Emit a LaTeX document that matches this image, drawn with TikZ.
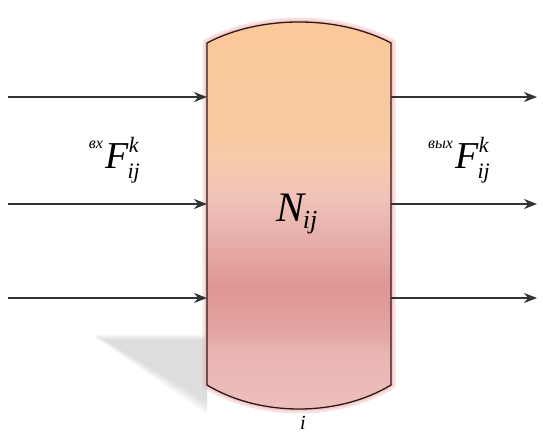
\documentclass[tikz,border=0pt]{standalone}
\usepackage[no-math]{fontspec}
\setmainfont{Liberation Serif}
\usetikzlibrary{arrows.meta, calc, positioning}
\definecolor{tankline}{HTML}{2A1A1A}
\definecolor{tankglow}{HTML}{F2A8A8}
\definecolor{flowclr}{HTML}{333333}
\definecolor{tankbotc}{HTML}{EDC0BD}
\definecolor{tanklowc}{HTML}{E9B5B3}
\definecolor{tankmidc}{HTML}{E3A5A2}
\definecolor{tankdarkc}{HTML}{DE9693}
\definecolor{tankrosec}{HTML}{E7AEA9}
\definecolor{tankpinkc}{HTML}{EFC2B8}
\definecolor{tanklightc}{HTML}{F6CAAC}
\definecolor{tankpeachc}{HTML}{F9CAA0}
\definecolor{tanktopc}{HTML}{FAC898}
\pgfdeclareverticalshading{tankfill}{100bp}{
  color(0bp)=(tankbotc); color(25bp)=(tankbotc); color(33bp)=(tanklowc);
  color(35.5bp)=(tankmidc); color(41bp)=(tankdarkc); color(47bp)=(tankrosec);
  color(52bp)=(tankpinkc); color(56.5bp)=(tanklightc); color(61bp)=(tankpeachc);
  color(75bp)=(tanktopc); color(100bp)=(tanktopc)}
\newcommand{\flowsym}{{\itshape F}\kern-1pt\raisebox{-10pt}{\fontsize{22}{22}\selectfont\itshape ij}\kern-11pt\raisebox{16pt}{\fontsize{22}{22}\selectfont\itshape k}}

\begin{document}
\begin{tikzpicture}[
    x=1pt, y=-1pt,
    flow/.style={line width=1.6pt, flowclr, -{Stealth[length=13pt, width=10pt]}},
    flow label/.style={font=\fontsize{38}{40}\selectfont, inner sep=0pt},
    pre label/.style={font=\fontsize{16}{18}\selectfont\itshape, inner sep=0pt},
  ]
  \useasboundingbox (0,0) rectangle (543,435);

  % Shadow under the vessel
  \foreach \d in {0,3,6,9,12} {
    \fill[black!30, opacity=0.11]
      ($(92,335)+(\d,\d*0.4)$) -- ($(207,335)+(0,\d*0.4)$) -- ($(207,414)+(0,-\d)$) -- cycle;
  }

  % Vessel
  \def\tankpath{(207,43) .. controls (260,15) and (338,15) .. (391,43)
    -- (391,385) .. controls (338,417) and (260,417) .. (207,385) -- cycle}
  \draw[tankglow, line width=9pt, opacity=0.35] \tankpath;
  \draw[tankglow, line width=4pt, opacity=0.5] \tankpath;
  \shade[shading=tankfill] \tankpath;
  \draw[tankline, line width=1.3pt, line join=round] \tankpath;

  % Inlets and outlets
  \foreach \n/\y in {1/97, 2/204, 3/298} {
    \coordinate (src\n) at (8,\y);
    \coordinate (in\n) at (207,\y);
    \coordinate (out\n) at (391,\y);
    \coordinate (dst\n) at (537,\y);
    \draw[flow] (src\n) -- (in\n);
    \draw[flow] (out\n) -- (dst\n);
  }

  % Labels
  \node[flow label] (Fin) at (122,160) {\flowsym};
  \node[pre label, left=2pt of Fin.north west, anchor=north east, yshift=-4pt] (pin) {вх};
  \node[flow label] (Fout) at (472,160) {\flowsym};
  \node[pre label, left=2pt of Fout.north west, anchor=north east, yshift=-4pt] (pout) {вых};
  \node[font=\fontsize{42}{44}\selectfont\itshape, inner sep=0pt] (Nij) at (297,214)
    {N\kern-2pt\raisebox{-7pt}{\fontsize{26}{26}\selectfont ij}};
  \node[font=\fontsize{20}{22}\selectfont\itshape, inner sep=0pt] (ilabel) at (303,423) {i};
\end{tikzpicture}
\end{document}
